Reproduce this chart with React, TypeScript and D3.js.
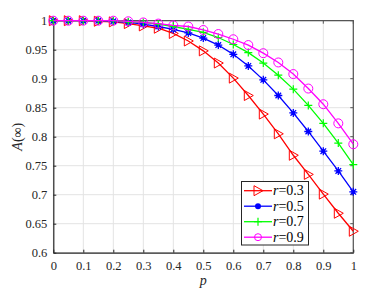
import React, { useRef, useEffect } from "react";
import * as d3 from "d3";

const pValues = [0, 0.05, 0.1, 0.15, 0.2, 0.25, 0.3, 0.35, 0.4, 0.45, 0.5, 0.55, 0.6, 0.65, 0.7, 0.75, 0.8, 0.85, 0.9, 0.95, 1];

const r03 = [1, 1, 1, 0.999, 0.998, 0.995, 0.991, 0.987, 0.978, 0.965, 0.948, 0.927, 0.901, 0.871, 0.839, 0.805, 0.768, 0.735, 0.701, 0.668, 0.637];
const r05 = [1, 1, 1, 1, 0.999, 0.997, 0.994, 0.99, 0.985, 0.979, 0.97, 0.958, 0.942, 0.922, 0.898, 0.871, 0.841, 0.809, 0.775, 0.741, 0.705];
const r07 = [1, 1, 1, 1, 1, 0.998, 0.997, 0.994, 0.99, 0.985, 0.98, 0.971, 0.959, 0.945, 0.927, 0.906, 0.882, 0.854, 0.823, 0.789, 0.752];
const r09 = [1, 1, 1, 1, 1, 0.999, 0.997, 0.995, 0.992, 0.99, 0.984, 0.977, 0.968, 0.958, 0.944, 0.928, 0.908, 0.883, 0.856, 0.823, 0.787];

const xTicks = [0, 0.1, 0.2, 0.3, 0.4, 0.5, 0.6, 0.7, 0.8, 0.9, 1];
const yTicks = [0.6, 0.65, 0.7, 0.75, 0.8, 0.85, 0.9, 0.95, 1];

const seriesList = [
  { label: "0.3", values: r03, color: "#ff0000", marker: "triangle" },
  { label: "0.5", values: r05, color: "#0000ff", marker: "star" },
  { label: "0.7", values: r07, color: "#00ff00", marker: "plus" },
  { label: "0.9", values: r09, color: "#ff00ff", marker: "circle" },
];

const font = "Liberation Serif";

function drawMarker(g, type, color, x, y, legend) {
  if (type === "triangle") {
    g.append("path")
      .attr("d", `M${x - 4},${y - 5}L${x + 5},${y}L${x - 4},${y + 5}Z`)
      .attr("fill", "none").attr("stroke", color).attr("stroke-width", 1);
  } else if (type === "star") {
    if (legend) {
      g.append("circle").attr("cx", x).attr("cy", y).attr("r", 3).attr("fill", color);
      return;
    }
    const s = 4;
    const d = `M${x - s},${y}L${x + s},${y}M${x},${y - s}L${x},${y + s}M${x - s * 0.7},${y - s * 0.7}L${x + s * 0.7},${y + s * 0.7}M${x - s * 0.7},${y + s * 0.7}L${x + s * 0.7},${y - s * 0.7}`;
    g.append("path").attr("d", d).attr("stroke", color).attr("stroke-width", 1.3);
    g.append("circle").attr("cx", x).attr("cy", y).attr("r", 2).attr("fill", color);
  } else if (type === "plus") {
    const s = 4;
    g.append("path")
      .attr("d", `M${x - s},${y}L${x + s},${y}M${x},${y - s}L${x},${y + s}`)
      .attr("stroke", color).attr("stroke-width", 1.2);
  } else {
    g.append("circle").attr("cx", x).attr("cy", y).attr("r", legend ? 3.5 : 4.5)
      .attr("fill", "none").attr("stroke", color).attr("stroke-width", 1);
  }
}

const App = () => {
  const ref = useRef(null);

  useEffect(() => {
    const width = 373;
    const height = 293;
    const left = 53.3, right = 353.3, top = 20.7, bottom = 252.7;

    const x = d3.scaleLinear().domain([0, 1]).range([left, right]);
    const y = d3.scaleLinear().domain([0.6, 1]).range([bottom, top]);

    const svg = d3.create("svg")
      .attr("width", width)
      .attr("height", height)
      .attr("viewBox", [0, 0, width, height])
      .style("display", "block")
      .style("background", "#fff")
      .style("font-family", font);

    // grid
    const grid = svg.append("g").attr("stroke", "#e3e3e3").attr("stroke-width", 1);
    xTicks.forEach(t => {
      grid.append("line").attr("x1", x(t)).attr("x2", x(t)).attr("y1", top).attr("y2", bottom);
    });
    yTicks.forEach(t => {
      grid.append("line").attr("x1", left).attr("x2", right).attr("y1", y(t)).attr("y2", y(t));
    });

    // box top/right
    svg.append("path")
      .attr("d", `M${left},${top}H${right}V${bottom}`)
      .attr("fill", "none").attr("stroke", "#555").attr("stroke-width", 1.2);

    // axes
    const xAxis = svg.append("g")
      .attr("transform", `translate(0,${bottom})`)
      .call(d3.axisBottom(x).tickValues(xTicks).tickSizeInner(-3).tickSizeOuter(0).tickPadding(8).tickFormat(d3.format("~g")));
    const yAxis = svg.append("g")
      .attr("transform", `translate(${left},0)`)
      .call(d3.axisLeft(y).tickValues(yTicks).tickSizeInner(-3).tickSizeOuter(0).tickPadding(6).tickFormat(d3.format("~g")));
    [xAxis, yAxis].forEach(a => {
      a.attr("font-family", null);
      a.selectAll(".domain").attr("stroke", "#262626").attr("stroke-width", 1.2);
      a.selectAll(".tick line").attr("stroke", "#262626");
      a.selectAll("text").style("font-family", font).attr("font-size", 12.5).attr("fill", "#262626");
    });

    // top/right ticks
    const tt = svg.append("g").attr("stroke", "#555");
    xTicks.forEach(t => {
      tt.append("line").attr("x1", x(t)).attr("x2", x(t)).attr("y1", top).attr("y2", top + 3);
    });
    yTicks.forEach(t => {
      tt.append("line").attr("x1", right).attr("x2", right - 3).attr("y1", y(t)).attr("y2", y(t));
    });

    const line = d3.line().x((d, i) => x(pValues[i])).y(d => y(d));

    seriesList.forEach(s => {
      svg.append("path")
        .attr("d", line(s.values))
        .attr("fill", "none")
        .attr("stroke", s.color)
        .attr("stroke-width", 1.3);
      const mg = svg.append("g");
      s.values.forEach((v, i) => drawMarker(mg, s.marker, s.color, x(pValues[i]), y(v), false));
    });

    // labels
    svg.append("text")
      .attr("x", x(0.5))
      .attr("y", 285)
      .attr("text-anchor", "middle")
      .style("font-family", font)
      .attr("font-style", "italic")
      .attr("font-size", 14)
      .attr("fill", "#262626")
      .text("p");

    const yl = svg.append("text")
      .attr("transform", `translate(22,${(top + bottom) / 2}) rotate(-90)`)
      .attr("text-anchor", "middle")
      .style("font-family", font)
      .attr("font-size", 14)
      .attr("fill", "#262626");
    yl.append("tspan").attr("font-style", "italic").text("A");
    yl.append("tspan").text("(∞)");

    // legend
    const lg = svg.append("g");
    lg.append("rect")
      .attr("x", 241.5).attr("y", 181.5).attr("width", 67).attr("height", 63.5)
      .attr("fill", "#fff").attr("stroke", "#262626").attr("stroke-width", 1);
    seriesList.forEach((s, i) => {
      const cy = 190.7 + i * 15.5;
      lg.append("line").attr("x1", 244).attr("x2", 272).attr("y1", cy).attr("y2", cy)
        .attr("stroke", s.color).attr("stroke-width", 1.3);
      drawMarker(lg, s.marker, s.color, 258, cy, true);
      const t = lg.append("text")
        .attr("x", 273).attr("y", cy + 4.5)
        .style("font-family", font).attr("font-size", 14).attr("fill", "#000");
      t.append("tspan").attr("font-style", "italic").text("r");
      t.append("tspan").text("=" + s.label);
    });

    ref.current.innerHTML = "";
    ref.current.appendChild(svg.node());
  }, []);

  return <div ref={ref} style={{ position: "absolute", left: 0, top: 0 }} />;
};

export default App;
